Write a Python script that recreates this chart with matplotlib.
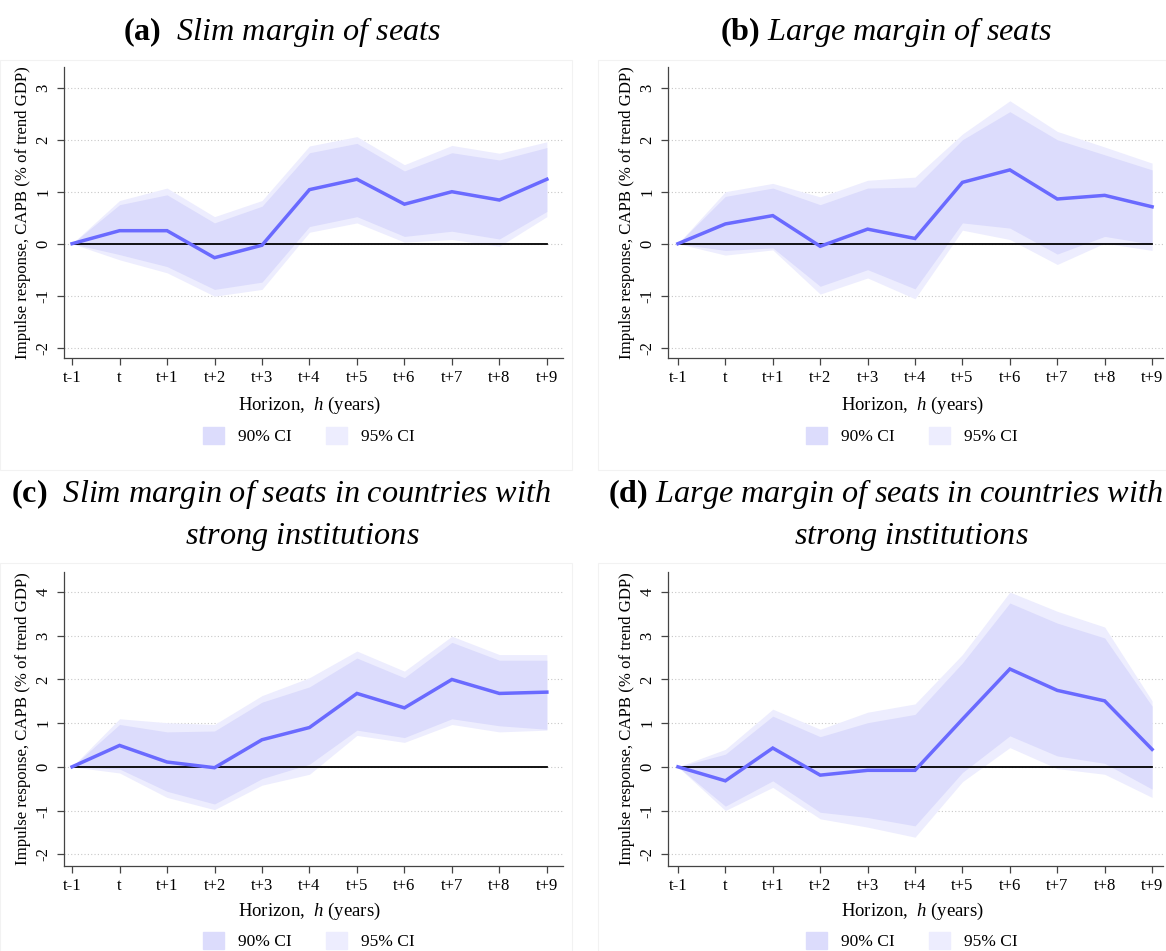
import numpy as np
import matplotlib
matplotlib.use("Agg")
from matplotlib import pyplot as plt
from matplotlib.patches import Patch, Rectangle

plt.rcParams['font.family'] = ['Liberation Serif', 'DejaVu Serif']
plt.rcParams['mathtext.fontset'] = 'custom'
plt.rcParams['mathtext.rm'] = 'Liberation Serif'
plt.rcParams['mathtext.it'] = 'Liberation Serif:italic'
plt.rcParams['mathtext.bf'] = 'Liberation Serif:bold'

# Horizon labels
horizons = ['t-1', 't', 't+1', 't+2', 't+3', 't+4', 't+5', 't+6', 't+7', 't+8', 't+9']

# (a) Slim margin of seats
a_irf = [0, 0.25, 0.25, -0.27, -0.03, 1.04, 1.24, 0.76, 1.00, 0.84, 1.24]
a_hi90 = [0, 0.75, 0.94, 0.40, 0.72, 1.75, 1.93, 1.40, 1.75, 1.61, 1.85]
a_lo90 = [0, -0.21, -0.44, -0.88, -0.74, 0.33, 0.52, 0.14, 0.24, 0.09, 0.62]
a_hi95 = [0, 0.83, 1.07, 0.52, 0.83, 1.88, 2.06, 1.52, 1.89, 1.74, 1.96]
a_lo95 = [0, -0.31, -0.56, -1.01, -0.88, 0.22, 0.40, 0.03, 0.08, -0.05, 0.52]

# (b) Large margin of seats
b_irf = [0, 0.38, 0.54, -0.05, 0.28, 0.10, 1.18, 1.42, 0.86, 0.93, 0.71]
b_hi90 = [0, 0.91, 1.07, 0.75, 1.07, 1.09, 2.00, 2.54, 2.00, 1.71, 1.42]
b_lo90 = [0, -0.13, -0.08, -0.82, -0.50, -0.87, 0.40, 0.30, -0.20, 0.14, -0.01]
b_hi95 = [0, 1.00, 1.16, 0.90, 1.22, 1.28, 2.11, 2.75, 2.16, 1.86, 1.55]
b_lo95 = [0, -0.22, -0.12, -0.97, -0.66, -1.06, 0.26, 0.08, -0.40, 0.01, -0.13]

# (c) Slim margin, strong institutions
c_irf = [0, 0.49, 0.11, -0.02, 0.62, 0.90, 1.68, 1.35, 2.00, 1.68, 1.71]
c_hi90 = [0, 0.97, 0.80, 0.82, 1.48, 1.83, 2.49, 2.04, 2.85, 2.44, 2.44]
c_lo90 = [0, -0.05, -0.56, -0.85, -0.27, 0.06, 0.84, 0.67, 1.10, 0.94, 0.86]
c_hi95 = [0, 1.10, 1.01, 0.97, 1.63, 2.04, 2.65, 2.19, 2.99, 2.57, 2.57]
c_lo95 = [0, -0.14, -0.70, -0.98, -0.42, -0.17, 0.72, 0.56, 0.97, 0.80, 0.84]

# (d) Large margin, strong institutions
d_irf = [0, -0.32, 0.43, -0.19, -0.08, -0.08, 1.09, 2.24, 1.75, 1.51, 0.40]
d_hi90 = [0, 0.29, 1.16, 0.69, 1.01, 1.20, 2.38, 3.75, 3.29, 2.95, 1.39]
d_lo90 = [0, -0.90, -0.32, -1.04, -1.16, -1.35, -0.13, 0.71, 0.25, 0.08, -0.51]
d_hi95 = [0, 0.40, 1.32, 0.86, 1.25, 1.44, 2.57, 4.00, 3.56, 3.20, 1.51]
d_lo95 = [0, -1.00, -0.47, -1.19, -1.38, -1.61, -0.34, 0.44, -0.04, -0.17, -0.70]

LINE = '#6a6aff'
CI90 = '#dcdcfc'
CI95 = '#ededfe'

W, H = 1166, 951
fig = plt.figure(figsize=(W / 100, H / 100), dpi=100)


def px_axes(left, top, right, bottom):
    return fig.add_axes([left / W, 1 - bottom / H, (right - left) / W, (bottom - top) / H])


def panel(box, xlim, ylim, yticks, irf, lo90, hi90, lo95, hi95, leg_x, leg_y, xlab_y):
    ax = px_axes(*box)
    x = np.arange(-1, len(irf) - 1)
    ax.fill_between(x, lo95, hi95, color=CI95, lw=0, zorder=1)
    ax.fill_between(x, lo90, hi90, color=CI90, lw=0, zorder=2)
    ax.plot([x[0], x[-1]], [0, 0], color='black', lw=1.3, zorder=3)
    ax.plot(x, irf, color=LINE, lw=2.5, zorder=4, solid_joinstyle='miter')
    ax.set_xlim(*xlim)
    ax.set_ylim(*ylim)
    ax.set_xticks(x)
    ax.set_xticklabels(horizons, fontsize=12)
    ax.set_yticks(yticks)
    ax.set_yticklabels([str(v) for v in yticks], fontsize=12, rotation=90, va='center')
    ax.grid(axis='y', ls=(0, (1, 2)), color='#c8c8c8', lw=0.8)
    ax.set_axisbelow(True)
    for s in ['top', 'right']:
        ax.spines[s].set_visible(False)
    for s in ['left', 'bottom']:
        ax.spines[s].set_color('#444444')
        ax.spines[s].set_linewidth(0.9)
    ax.tick_params(length=5, color='#444444', width=0.9, pad=4)
    ax.set_ylabel('Impulse response, CAPB (% of trend GDP)', fontsize=12.1, labelpad=3)
    fig.text(leg_x, 1 - xlab_y / H, 'Horizon,  $\\it{h}$ (years)', ha='center', va='center', fontsize=13.5)
    handles = [Patch(color=CI90, label='90% CI'), Patch(color=CI95, label='95% CI')]
    fig.legend(handles=handles, loc='center', bbox_to_anchor=(leg_x, 1 - leg_y / H), ncol=2,
               frameon=False, fontsize=12.5, handlelength=1.2, handleheight=1.2,
               columnspacing=2.0, handletextpad=0.8)
    return ax


# faint frames around each sub-figure
for (l, t, r, b) in [(0, 60, 572, 470), (598, 60, 1166, 470), (0, 563, 572, 951), (598, 563, 1166, 951)]:
    fig.patches.append(Rectangle((l / W, 1 - b / H), (r - l) / W, (b - t) / H, transform=fig.transFigure,
                                 fill=False, edgecolor='#f2f2f2', lw=0.8))

panel((64, 67, 563, 358), (-1.17, 9.34), (-2.2, 3.4), [-2, -1, 0, 1, 2, 3],
      a_irf, a_lo90, a_hi90, a_lo95, a_hi95, 309 / W, 436, 405)
panel((668, 67, 1163, 358), (-1.21, 9.23), (-2.2, 3.4), [-2, -1, 0, 1, 2, 3],
      b_irf, b_lo90, b_hi90, b_lo95, b_hi95, 912 / W, 436, 405)
panel((64, 572, 563, 866), (-1.17, 9.34), (-2.27, 4.46), [-2, -1, 0, 1, 2, 3, 4],
      c_irf, c_lo90, c_hi90, c_lo95, c_hi95, 309 / W, 941, 911)
panel((668, 572, 1163, 866), (-1.21, 9.23), (-2.27, 4.46), [-2, -1, 0, 1, 2, 3, 4],
      d_irf, d_lo90, d_hi90, d_lo95, d_hi95, 912 / W, 941, 911)

TS = 23.2
fig.text(282 / W, 1 - 32 / H, r'$\bf{(a)}$  $\it{Slim\ margin\ of\ seats}$', ha='center', va='center', fontsize=TS)
fig.text(886 / W, 1 - 32 / H, r'$\bf{(b)}$ $\it{Large\ margin\ of\ seats}$', ha='center', va='center', fontsize=TS)
fig.text(281 / W, 1 - 494 / H, r'$\bf{(c)}$  $\it{Slim\ margin\ of\ seats\ in\ countries\ with}$',
         ha='center', va='center', fontsize=TS)
fig.text(302 / W, 1 - 537 / H, r'$\it{strong\ institutions}$', ha='center', va='center', fontsize=TS)
fig.text(886 / W, 1 - 494 / H, r'$\bf{(d)}$ $\it{Large\ margin\ of\ seats\ in\ countries\ with}$',
         ha='center', va='center', fontsize=TS)
fig.text(911 / W, 1 - 537 / H, r'$\it{strong\ institutions}$', ha='center', va='center', fontsize=TS)

fig.savefig('out.png', dpi=100)
